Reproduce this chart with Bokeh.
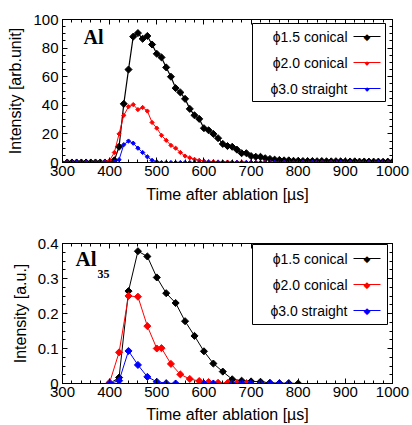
import numpy as np
from bokeh.plotting import figure
from bokeh.layouts import column
from bokeh.models import (LinearAxis, BoxAnnotation, Label, Arrow, Range1d,
                          SingleIntervalTicker)
from bokeh.embed import file_html
from bokeh.resources import INLINE

# ---------------- data: top panel (Al) ----------------
t_black_top = list(range(310, 1001, 10))
y_black_top = [0, 0, 0, 0, 0, 0, 0, 0, 0, 0,            # 310-400
               1.5, 11, 41, 65, 88, 90.5, 86.5, 88.5, 82.5, 76,   # 410-500
               73.5, 66.5, 60, 52, 49, 44.5, 37.5, 33, 30.5, 24,  # 510-600
               22.5, 20, 17, 13, 11.5, 11, 9, 6.5, 6.5, 4.5,      # 610-700
               4, 4, 3, 2.5, 2, 1.8, 1.5, 1.5, 1.2, 1.2,          # 710-800
               1.0, 1.0, 1.0, 0.9, 1.0, 0.8, 0.8, 0.9, 0.8, 0.7,  # 810-900
               0.7, 0.8, 0.6, 0.7, 0.6, 0.6, 0.6, 0.5, 0.6, 0.5]  # 910-1000

t_red_top = list(range(300, 1001, 10))
y_red_top = [0, 0, 0, 0, 0, 0, 0, 0, 0, 0.5,            # 300-390
             1.5, 7, 20, 33, 39, 40.5, 37, 38.5, 36, 28,         # 400-490
             24, 19, 15.5, 12, 10, 7, 4.5, 3.3, 2.2, 1.5,        # 500-590
             1.0, 0.7, 0.5, 0.4, 0.3, 0.3, 0.2, 0.2, 0.2, 0.1,   # 600-690
             0.1, 0.1, 0.1, 0.1, 0.1, 0, 0, 0, 0, 0,             # 700-790
             0, 0, 0, 0, 0, 0, 0, 0, 0, 0,                       # 800-890
             0, 0, 0, 0, 0, 0, 0, 0, 0, 0,                       # 900-990
             0]                                                  # 1000

t_blue_top = list(range(300, 1001, 10))
y_blue_top = [0, 0, 0, 0, 0, 0, 0, 0, 0, 0,             # 300-390
              0, 0.5, 2, 12.5, 15, 13.5, 10, 7, 4, 1.5,          # 400-490
              0.5, 0, 0, 0, 0, 0, 0, 0, 0, 0,                    # 500-590
              0, 0, 0, 0, 0, 0, 0, 0, 0, 0,
              0, 0, 0, 0, 0, 0, 0, 0, 0, 0,
              0, 0, 0, 0, 0, 0, 0, 0, 0, 0,
              0, 0, 0, 0, 0, 0, 0, 0, 0, 0,
              0]

# ---------------- data: bottom panel (Al35) ----------------
t_black_bot = [400, 420, 440, 460, 480, 500, 520, 540, 560, 580, 600,
               620, 640, 660, 680, 700, 720, 740, 760, 780, 800]
y_black_bot = [0.0, 0.017, 0.264, 0.378, 0.363, 0.303, 0.258, 0.230, 0.178, 0.136, 0.092,
               0.057, 0.034, 0.012, 0.008, 0.006, 0.005, 0.002, 0.001, 0.001, 0.0]

t_red_bot = [400, 420, 440, 460, 480, 500, 510, 530, 550, 570, 590,
             610, 630, 650, 670, 690]
y_red_bot = [0.003, 0.089, 0.250, 0.248, 0.164, 0.100, 0.101, 0.056, 0.026, 0.013, 0.007,
             0.004, 0.002, 0.001, 0.001, 0.001]

t_blue_bot = [400, 420, 440, 460, 480, 500, 520, 540, 600, 620,
              660, 680, 700, 720, 740, 760, 780]
y_blue_bot = [0.0, 0.008, 0.093, 0.053, 0.019, 0.005, 0.001, 0.0, 0.0, 0.0,
              0.0, 0.0, 0.0, 0.0, 0.0, 0.0, 0.0]

series_names = ["\u03d51.5 conical", "\u03d52.0 conical", "\u03d53.0 straight"]
series_colors = ["#000000", "#ff0000", "#0000ff"]
x_label = "Time after ablation [\u00b5s]"

FONT = "Liberation Sans"


def make_fig(height, top_b, bottom_b, y_end, y_interval, ylabel, xlabel_standoff):
    p = figure(width=412, height=height, x_range=Range1d(300, 1000),
               y_range=Range1d(0, y_end), output_backend="svg",
               toolbar_location=None, min_border_left=62, min_border_right=20,
               min_border_top=top_b, min_border_bottom=bottom_b,
               x_axis_location=None, y_axis_location=None)
    p.grid.visible = False
    p.outline_line_color = "black"
    p.outline_line_width = 1
    p.outline_line_alpha = 1
    p.background_fill_color = "white"
    p.border_fill_color = "white"

    xt = SingleIntervalTicker(interval=100, num_minor_ticks=5)
    yt = SingleIntervalTicker(interval=y_interval, num_minor_ticks=4)

    xb = LinearAxis(ticker=xt, axis_label=x_label)
    yl = LinearAxis(ticker=yt, axis_label=ylabel)
    xa = LinearAxis(ticker=xt)
    yr = LinearAxis(ticker=yt)
    for ax in (xb, yl, xa, yr):
        ax.axis_line_color = "black"
        ax.major_tick_in = 5
        ax.major_tick_out = 0
        ax.minor_tick_in = 3
        ax.minor_tick_out = 0
        ax.major_tick_line_color = "black"
        ax.minor_tick_line_color = "black"
        ax.major_label_text_font = FONT
        ax.major_label_text_font_size = "15px"
        ax.major_label_text_color = "black"
        ax.axis_label_text_font = FONT
        ax.axis_label_text_font_size = "16px"
        ax.axis_label_text_font_style = "normal"
        ax.axis_label_text_color = "black"
    for ax in (xa, yr):
        ax.major_label_text_font_size = "0px"
        ax.major_label_text_color = None
        ax.major_label_text_alpha = 0
        ax.major_label_standoff = 0
    xb.major_label_standoff = 3
    xb.axis_label_standoff = xlabel_standoff
    yl.major_label_standoff = 4
    yl.axis_label_standoff = 6
    yl.major_label_overrides = {0: "0"}
    p.add_layout(xb, "below")
    p.add_layout(yl, "left")
    p.add_layout(xa, "above")
    p.add_layout(yr, "right")
    return p


def add_legend(p, box, rows, text_right, line_x, marker_sizes, marker_chars):
    left, right, top, bottom = box
    p.add_layout(BoxAnnotation(left=left, right=right, top=top, bottom=bottom,
                               left_units="screen", right_units="screen",
                               top_units="screen", bottom_units="screen",
                               fill_color="white", fill_alpha=1,
                               line_color="black", line_width=1, line_alpha=1))
    for name, col, yy, ms in zip(series_names, series_colors, rows, marker_sizes):
        p.add_layout(Label(x=text_right, y=yy, x_units="screen", y_units="screen",
                           text=name, text_font=FONT, text_font_size="14px",
                           text_align="right", text_baseline="middle",
                           text_color="black"))
        p.add_layout(Arrow(end=None, x_start=line_x[0], y_start=yy,
                           x_end=line_x[1], y_end=yy,
                           start_units="screen", end_units="screen",
                           line_color=col, line_width=1.2))
        p.add_layout(Label(x=(line_x[0] + line_x[1]) / 2, y=yy, x_units="screen",
                           y_units="screen", text=marker_chars,
                           text_font="DejaVu Sans", text_font_size=ms,
                           text_align="center", text_baseline="middle",
                           text_color=col))


# ---------------- top figure ----------------
p1 = make_fig(205, 19, 43, 100, 20, "Intensity [arb.unit]", 7)
p1.line(t_black_top, y_black_top, color=series_colors[0], line_width=1.2)
p1.scatter(t_black_top, y_black_top, marker="square", angle=np.pi / 4, size=5,
           color=series_colors[0])
p1.line(t_red_top, y_red_top, color=series_colors[1], line_width=1)
p1.scatter(t_red_top, y_red_top, marker="square", angle=np.pi / 4, size=3,
           color=series_colors[1])
p1.line(t_blue_top, y_blue_top, color=series_colors[2], line_width=1)
p1.scatter(t_blue_top, y_blue_top, marker="square", angle=np.pi / 4, size=3,
           color=series_colors[2])
add_legend(p1, (190, 323, 139, 61), (126, 100, 74), 285, (291, 318),
           ("9px", "6px", "6px"), "\u25c6")
p1.add_layout(Label(x=21, y=115, x_units="screen", y_units="screen", text="Al",
                    text_font="Liberation Serif", text_font_style="bold",
                    text_font_size="20px", text_color="black"))

# ---------------- bottom figure ----------------
p2 = make_fig(220, 38, 39, 0.4, 0.1, "Intensity [a.u.]", 6)
for t, y, c in ((t_black_bot, y_black_bot, series_colors[0]),
                (t_red_bot, y_red_bot, series_colors[1]),
                (t_blue_bot, y_blue_bot, series_colors[2])):
    p2.line(t, y, color=c, line_width=1)
    p2.scatter(t, y, marker="square", angle=np.pi / 4, size=5, color=c)
add_legend(p2, (190, 325, 139, 59), (125, 99, 73), 285, (291, 318),
           ("9px", "9px", "9px"), "\u25c6")
p2.add_layout(Label(x=13, y=113, x_units="screen", y_units="screen", text="Al",
                    text_font="Liberation Serif", text_font_style="bold",
                    text_font_size="21px", text_color="black"))
p2.add_layout(Label(x=35, y=106, x_units="screen", y_units="screen", text="35",
                    text_font="Liberation Serif", text_font_style="bold",
                    text_font_size="12px", text_color="black"))

layout = column(p1, p2, spacing=0)
open("out.html", "w").write(file_html(layout, INLINE))
